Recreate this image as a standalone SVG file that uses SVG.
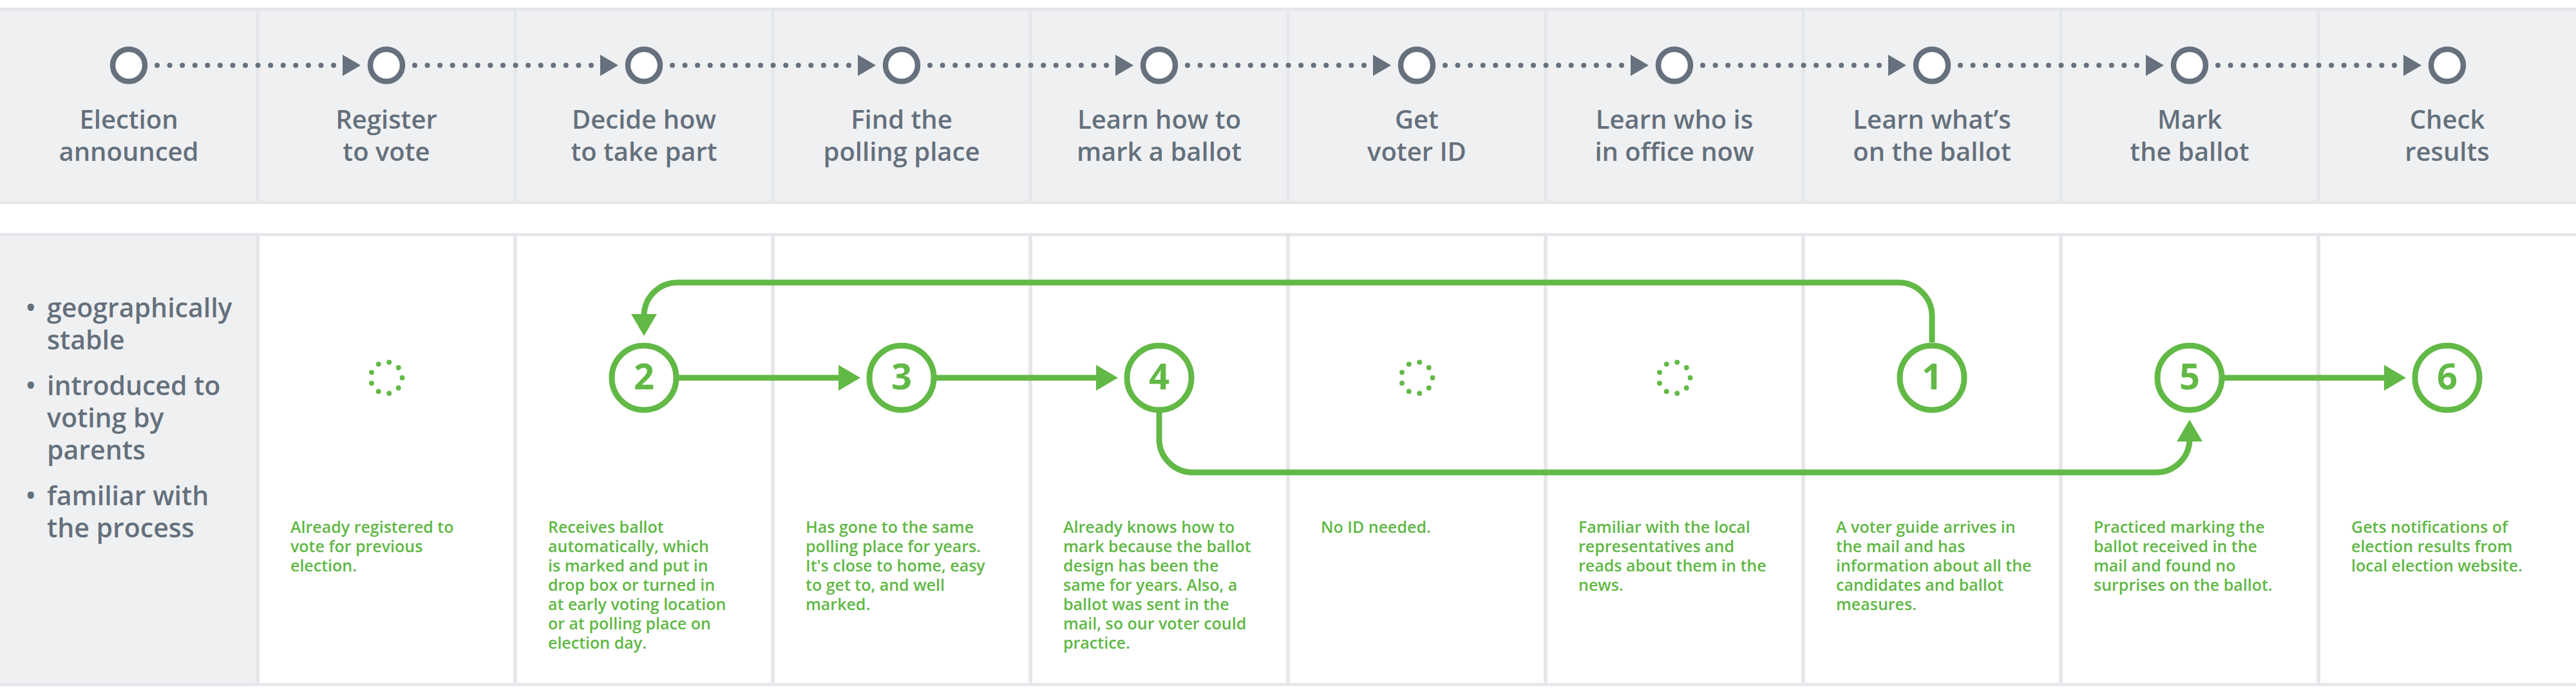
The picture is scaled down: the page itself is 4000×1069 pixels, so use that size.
<svg xmlns="http://www.w3.org/2000/svg" width="4000" height="1069" viewBox="0 0 4000 1069">
<style>
.band{fill:#eff0f2}
.rule{fill:#e5e7ea}
.cell{fill:#ffffff}
text{font-family:"Open Sans","Noto Sans","Liberation Sans",sans-serif;font-weight:600}
.lbl{font-size:40px;fill:#64707c;text-anchor:middle}
.bul{font-size:41px;fill:#64707c}
.desc{font-size:25px;fill:#5fb845}
.num{font-size:56px;font-weight:700;fill:#62b946;text-anchor:middle}
.stage{fill:#ffffff;stroke:#66717d;stroke-width:8.5}
.dots{fill:none;stroke:#66717d;stroke-width:8;stroke-linecap:round;stroke-dasharray:0 19.571}
.gtri{fill:#66717d}
.node{fill:#ffffff;stroke:#62b946;stroke-width:9}
.flow{fill:none;stroke:#62b946;stroke-width:9}
.head{fill:#62b946}
.rdot{fill:#62b946}
</style>
<defs>
<path id="gArrow" d="M0,-16.5 L28,0 L0,16.5 Z"/>
<path id="arrowR" d="M0,-20 L34,0 L0,20 Z"/>
<g id="ring">
<circle class="rdot" cx="24.5" cy="0" r="3.9"/>
<circle class="rdot" cx="18.77" cy="15.75" r="3.9"/>
<circle class="rdot" cx="4.25" cy="24.13" r="3.9"/>
<circle class="rdot" cx="-12.25" cy="21.22" r="3.9"/>
<circle class="rdot" cx="-23.02" cy="8.38" r="3.9"/>
<circle class="rdot" cx="-23.02" cy="-8.38" r="3.9"/>
<circle class="rdot" cx="-12.25" cy="-21.22" r="3.9"/>
<circle class="rdot" cx="4.25" cy="-24.13" r="3.9"/>
<circle class="rdot" cx="18.77" cy="-15.75" r="3.9"/>
</g>
</defs>

<g id="background">
<rect class="band" x="0" y="12" width="4000" height="305"/>
<rect class="rule" x="0" y="12" width="4000" height="5"/>
<rect class="rule" x="0" y="312" width="4000" height="5"/>
<rect class="rule" x="397.5" y="17" width="5" height="295"/>
<rect class="rule" x="797.5" y="17" width="5" height="295"/>
<rect class="rule" x="1197.5" y="17" width="5" height="295"/>
<rect class="rule" x="1597.5" y="17" width="5" height="295"/>
<rect class="rule" x="1997.5" y="17" width="5" height="295"/>
<rect class="rule" x="2397.5" y="17" width="5" height="295"/>
<rect class="rule" x="2797.5" y="17" width="5" height="295"/>
<rect class="rule" x="3197.5" y="17" width="5" height="295"/>
<rect class="rule" x="3597.5" y="17" width="5" height="295"/>

<rect class="rule" x="0" y="362" width="4000" height="704"/>
<rect class="band" x="0" y="367" width="397" height="694"/>
<rect class="cell" x="403" y="367" width="394" height="694"/>
<rect class="cell" x="803" y="367" width="394" height="694"/>
<rect class="cell" x="1203" y="367" width="394" height="694"/>
<rect class="cell" x="1603" y="367" width="394" height="694"/>
<rect class="cell" x="2003" y="367" width="394" height="694"/>
<rect class="cell" x="2403" y="367" width="394" height="694"/>
<rect class="cell" x="2803" y="367" width="394" height="694"/>
<rect class="cell" x="3203" y="367" width="394" height="694"/>
<rect class="cell" x="3603" y="367" width="397" height="694"/>
</g>

<g id="timeline-connectors">
<line class="dots" x1="244" y1="101.5" x2="518" y2="101.5"/>
<use href="#gArrow" class="gtri" x="532" y="101.5"/>
<line class="dots" x1="644" y1="101.5" x2="918" y2="101.5"/>
<use href="#gArrow" class="gtri" x="932" y="101.5"/>
<line class="dots" x1="1044" y1="101.5" x2="1318" y2="101.5"/>
<use href="#gArrow" class="gtri" x="1332" y="101.5"/>
<line class="dots" x1="1444" y1="101.5" x2="1718" y2="101.5"/>
<use href="#gArrow" class="gtri" x="1732" y="101.5"/>
<line class="dots" x1="1844" y1="101.5" x2="2118" y2="101.5"/>
<use href="#gArrow" class="gtri" x="2132" y="101.5"/>
<line class="dots" x1="2244" y1="101.5" x2="2518" y2="101.5"/>
<use href="#gArrow" class="gtri" x="2532" y="101.5"/>
<line class="dots" x1="2644" y1="101.5" x2="2918" y2="101.5"/>
<use href="#gArrow" class="gtri" x="2932" y="101.5"/>
<line class="dots" x1="3044" y1="101.5" x2="3318" y2="101.5"/>
<use href="#gArrow" class="gtri" x="3332" y="101.5"/>
<line class="dots" x1="3444" y1="101.5" x2="3718" y2="101.5"/>
<use href="#gArrow" class="gtri" x="3732" y="101.5"/>
</g>

<g id="stage-election-announced"><circle class="stage" cx="200" cy="101.5" r="25"/><text class="lbl" x="200" y="200">Election</text><text class="lbl" x="200" y="250">announced</text></g>
<g id="stage-register"><circle class="stage" cx="600" cy="101.5" r="25"/><text class="lbl" x="600" y="200">Register</text><text class="lbl" x="600" y="250">to vote</text></g>
<g id="stage-decide"><circle class="stage" cx="1000" cy="101.5" r="25"/><text class="lbl" x="1000" y="200">Decide how</text><text class="lbl" x="1000" y="250">to take part</text></g>
<g id="stage-find"><circle class="stage" cx="1400" cy="101.5" r="25"/><text class="lbl" x="1400" y="200">Find the</text><text class="lbl" x="1400" y="250">polling place</text></g>
<g id="stage-learn-mark"><circle class="stage" cx="1800" cy="101.5" r="25"/><text class="lbl" x="1800" y="200">Learn how to</text><text class="lbl" x="1800" y="250">mark a ballot</text></g>
<g id="stage-voter-id"><circle class="stage" cx="2200" cy="101.5" r="25"/><text class="lbl" x="2200" y="200">Get</text><text class="lbl" x="2200" y="250">voter ID</text></g>
<g id="stage-who-office"><circle class="stage" cx="2600" cy="101.5" r="25"/><text class="lbl" x="2600" y="200">Learn who is</text><text class="lbl" x="2600" y="250">in office now</text></g>
<g id="stage-whats-ballot"><circle class="stage" cx="3000" cy="101.5" r="25"/><text class="lbl" x="3000" y="200">Learn what’s</text><text class="lbl" x="3000" y="250">on the ballot</text></g>
<g id="stage-mark"><circle class="stage" cx="3400" cy="101.5" r="25"/><text class="lbl" x="3400" y="200">Mark</text><text class="lbl" x="3400" y="250">the ballot</text></g>
<g id="stage-check"><circle class="stage" cx="3800" cy="101.5" r="25"/><text class="lbl" x="3800" y="200">Check</text><text class="lbl" x="3800" y="250">results</text></g>

<g id="persona">
<text class="bul" x="40" y="493">•</text>
<text class="bul" x="73" y="493">geographically</text>
<text class="bul" x="73" y="543">stable</text>
<text class="bul" x="40" y="614">•</text>
<text class="bul" x="73" y="614">introduced to</text>
<text class="bul" x="73" y="664">voting by</text>
<text class="bul" x="73" y="714">parents</text>
<text class="bul" x="40" y="785">•</text>
<text class="bul" x="73" y="785">familiar with</text>
<text class="bul" x="73" y="835">the process</text>
</g>

<g id="journey-connectors">
<path class="flow" d="M3000,532 V491 A52,52 0 0 0 2948,439 H1052 A52,52 0 0 0 1000,491"/>
<use href="#arrowR" class="head" transform="translate(1000,488) rotate(90)"/>
<path class="flow" d="M1054,587 H1304"/>
<use href="#arrowR" class="head" x="1302" y="587"/>
<path class="flow" d="M1454,587 H1704"/>
<use href="#arrowR" class="head" x="1702" y="587"/>
<path class="flow" d="M1800,641 V682 A52,52 0 0 0 1852,734 H3348 A52,52 0 0 0 3400,682 V684"/>
<use href="#arrowR" class="head" transform="translate(3400,686) rotate(-90)"/>
<path class="flow" d="M3454,587 H3704"/>
<use href="#arrowR" class="head" x="3702" y="587"/>
</g>

<g id="step-register"><use href="#ring" x="600" y="587"/>
<text class="desc" x="451" y="828">Already registered to</text><text class="desc" x="451" y="858">vote for previous</text><text class="desc" x="451" y="888">election.</text></g>

<g id="step-2"><circle class="node" cx="1000" cy="587" r="50"/><text class="num" x="1000" y="605">2</text>
<text class="desc" x="851" y="828">Receives ballot</text><text class="desc" x="851" y="858">automatically, which</text><text class="desc" x="851" y="888">is marked and put in</text><text class="desc" x="851" y="918">drop box or turned in</text><text class="desc" x="851" y="948">at early voting location</text><text class="desc" x="851" y="978">or at polling place on</text><text class="desc" x="851" y="1008">election day.</text></g>

<g id="step-3"><circle class="node" cx="1400" cy="587" r="50"/><text class="num" x="1400" y="605">3</text>
<text class="desc" x="1251" y="828">Has gone to the same</text><text class="desc" x="1251" y="858">polling place for years.</text><text class="desc" x="1251" y="888">It's close to home, easy</text><text class="desc" x="1251" y="918">to get to, and well</text><text class="desc" x="1251" y="948">marked.</text></g>

<g id="step-4"><circle class="node" cx="1800" cy="587" r="50"/><text class="num" x="1800" y="605">4</text>
<text class="desc" x="1651" y="828">Already knows how to</text><text class="desc" x="1651" y="858">mark because the ballot</text><text class="desc" x="1651" y="888">design has been the</text><text class="desc" x="1651" y="918">same for years. Also, a</text><text class="desc" x="1651" y="948">ballot was sent in the</text><text class="desc" x="1651" y="978">mail, so our voter could</text><text class="desc" x="1651" y="1008">practice.</text></g>

<g id="step-voter-id"><use href="#ring" x="2200" y="587"/>
<text class="desc" x="2051" y="828">No ID needed.</text></g>

<g id="step-who-office"><use href="#ring" x="2600" y="587"/>
<text class="desc" x="2451" y="828">Familiar with the local</text><text class="desc" x="2451" y="858">representatives and</text><text class="desc" x="2451" y="888">reads about them in the</text><text class="desc" x="2451" y="918">news.</text></g>

<g id="step-1"><circle class="node" cx="3000" cy="587" r="50"/><text class="num" x="3000" y="605">1</text>
<text class="desc" x="2851" y="828">A voter guide arrives in</text><text class="desc" x="2851" y="858">the mail and has</text><text class="desc" x="2851" y="888">information about all the</text><text class="desc" x="2851" y="918">candidates and ballot</text><text class="desc" x="2851" y="948">measures.</text></g>

<g id="step-5"><circle class="node" cx="3400" cy="587" r="50"/><text class="num" x="3400" y="605">5</text>
<text class="desc" x="3251" y="828">Practiced marking the</text><text class="desc" x="3251" y="858">ballot received in the</text><text class="desc" x="3251" y="888">mail and found no</text><text class="desc" x="3251" y="918">surprises on the ballot.</text></g>

<g id="step-6"><circle class="node" cx="3800" cy="587" r="50"/><text class="num" x="3800" y="605">6</text>
<text class="desc" x="3651" y="828">Gets notifications of</text><text class="desc" x="3651" y="858">election results from</text><text class="desc" x="3651" y="888">local election website.</text></g>
</svg>
